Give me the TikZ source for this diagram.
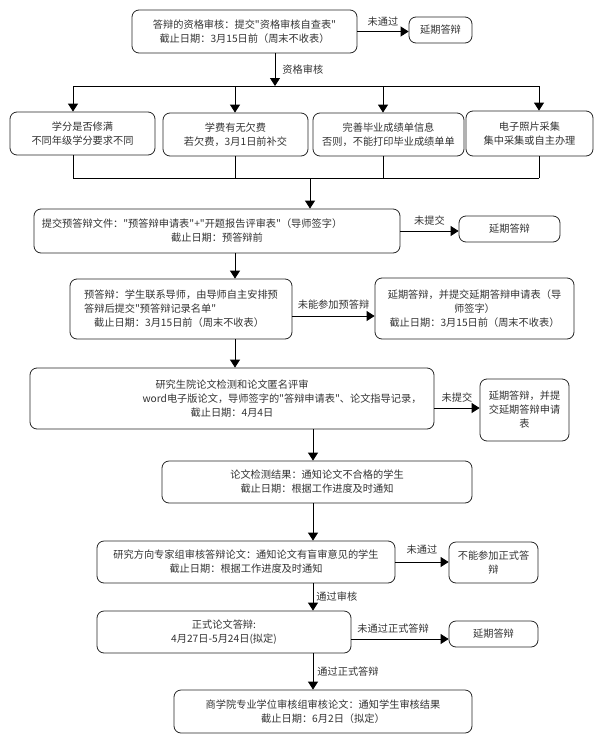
\documentclass[tikz,border=0pt]{standalone}
\usepackage{fontspec}
\setmainfont{Noto Sans CJK SC}[Ligatures=TeXOff]
\usetikzlibrary{arrows.meta}
\tikzset{
  stage/.style={draw=black!85, line width=0.8pt, rounded corners=7pt, align=center,
    inner sep=0pt, text=black!80, font=\fontsize{10.2}{14}\selectfont},
  flow/.style={line width=0.8pt, -{Triangle[length=8pt,width=10pt]}},
  link/.style={line width=0.8pt},
  tag/.style={text=black!80, font=\fontsize{10.2}{14}\selectfont, inner sep=1pt}
}
\begin{document}
\begin{tikzpicture}[x=1pt,y=-1pt]
  \useasboundingbox[fill=white] (0,0) rectangle (599,739);

  \node[stage, minimum width=225, minimum height=43] (qual) at (244.5,31.5)
    {答辩的资格审核：提交"资格审核自查表"\\截止日期：3月15日前（周末不收表）};
  \node[stage, minimum width=63, minimum height=26] (delay1) at (440.5,30) {延期答辩};

  \node[stage, minimum width=145, minimum height=43] (credit) at (82.5,133.5)
    {学分是否修满\\不同年级学分要求不同};
  \node[stage, minimum width=145, minimum height=43] (fee) at (235.5,134.5)
    {学费有无欠费\\若欠费，3月1日前补交};
  \node[stage, minimum width=151, minimum height=43] (grades) at (388.5,134.5)
    {完善毕业成绩单信息\\否则，不能打印毕业成绩单单};
  \node[stage, minimum width=127, minimum height=45] (photo) at (529.5,133.5)
    {电子照片采集\\集中采集或自主办理};

  \node[stage, minimum width=366, minimum height=44] (submit) at (217,231)
    {提交预答辩文件："预答辩申请表"+"开题报告评审表"（导师签字）\hspace*{50pt}\\截止日期：预答辩前};
  \node[stage, minimum width=101, minimum height=26] (delay2) at (509.5,229) {延期答辩};

  \node[stage, align=left, minimum width=222, minimum height=60] (predef) at (181,309)
    {预答辩：学生联系导师，由导师自主安排预\\答辩后提交"预答辩记录名单"\\\hspace*{10pt}截止日期：3月15日前（周末不收表）};
  \node[stage, minimum width=199, minimum height=61] (postpone1) at (474.5,308.5)
    {延期答辩，并提交延期答辩申请表（导\\师签字）\\截止日期：3月15日前（周末不收表）};

  \node[stage, minimum width=404, minimum height=61] (review) at (232,398.5)
    {研究生院论文检测和论文匿名评审\\\hspace*{100pt}word电子版论文，导师签字的"答辩申请表"、论文指导记录，\\截止日期：4月4日};
  \node[stage, minimum width=89, minimum height=62] (postpone2) at (524.5,410)
    {延期答辩，并提\\交延期答辩申请\\表};

  \node[stage, minimum width=310, minimum height=42] (check) at (317,482)
    {论文检测结果：通知论文不合格的学生\\截止日期：根据工作进度及时通知};

  \node[stage, minimum width=298, minimum height=42] (expert) at (246,562)
    {研究方向专家组审核答辩论文：通知论文有盲审意见的学生\\截止日期：根据工作进度及时通知};
  \node[stage, minimum width=89, minimum height=41] (noformal) at (493.5,562.5)
    {不能参加正式答\\辩};

  \node[stage, minimum width=254, minimum height=42] (formal) at (224,632)
    {正式论文答辩:\\4月27日-5月24日(拟定)};
  \node[stage, minimum width=89, minimum height=26] (delay3) at (493.5,634) {延期答辩};

  \node[stage, minimum width=298, minimum height=43] (final) at (323,711.5)
    {商学院专业学位审核组审核论文：通知学生审核结果\\截止日期：6月2日（拟定）};

  \coordinate (fork) at (275,86);
  \coordinate (f1) at (73,86);
  \coordinate (f2) at (235,86);
  \coordinate (f3) at (383,86);
  \coordinate (f4) at (539,86);
  \coordinate (join) at (310,178);
  \coordinate (spineA) at (235,0);
  \coordinate (spineB) at (313,0);
  \coordinate (side5) at (0,316);
  \coordinate (side6) at (0,408);
  \coordinate (side9) at (0,639);

  \draw[flow] (qual.east) -- (qual.east -| delay1.west)
    node[tag, midway, above=4pt] {未通过};
  \draw[flow] (qual.south -| fork) -- (fork)
    node[tag, midway, right=6pt] {资格审核};
  \draw[link] (f1) -- (f4);
  \draw[flow] (f1) -- (f1 |- credit.north);
  \draw[flow] (f2) -- (f2 |- fee.north);
  \draw[flow] (f3) -- (f3 |- grades.north);
  \draw[flow] (f4) -- (f4 |- photo.north);
  \draw[link] (credit.south -| f1) -- (f1 |- join);
  \draw[link] (fee.south -| f2) -- (f2 |- join);
  \draw[link] (grades.south -| f3) -- (f3 |- join);
  \draw[link] (photo.south -| f4) -- (f4 |- join);
  \draw[link] (f1 |- join) -- (f4 |- join);
  \draw[flow] (join) -- (join |- submit.north);

  \draw[flow] (submit.east) -- (submit.east -| delay2.west)
    node[tag, midway, above=4pt] {未提交};
  \draw[flow] (submit.south -| spineA) -- (predef.north -| spineA);

  \draw[flow] (predef.east |- side5) -- (postpone1.west |- side5)
    node[tag, midway, above=5pt] {未能参加预答辩};
  \draw[flow] (predef.south -| spineA) -- (review.north -| spineA);

  \draw[flow] (review.east |- side6) -- (postpone2.west |- side6)
    node[tag, midway, above=4pt] {未提交};
  \draw[flow] (review.south -| spineB) -- (check.north -| spineB);

  \draw[flow] (check.south -| spineB) -- (expert.north -| spineB);

  \draw[flow] (expert.east) -- (expert.east -| noformal.west)
    node[tag, midway, above=6pt] {未通过};
  \draw[flow] (expert.south -| spineB) -- (formal.north -| spineB)
    node[tag, midway, right=2pt] {通过审核};

  \draw[flow] (formal.east |- side9) -- (delay3.west |- side9)
    node[tag, pos=0.43, above=4pt] {未通过正式答辩};
  \draw[flow] (formal.south -| spineB) -- (final.north -| spineB)
    node[tag, midway, right=3pt] {通过正式答辩};
\end{tikzpicture}
\end{document}
